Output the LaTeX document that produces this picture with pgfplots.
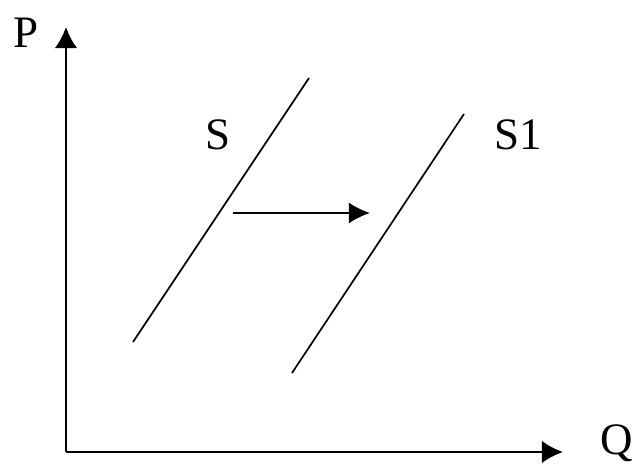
\documentclass[border=0pt]{standalone}
\usepackage{fontspec}
\setmainfont{Liberation Serif}
\usepackage{pgfplots}
\pgfplotsset{compat=1.18}
\usetikzlibrary{arrows.meta}

% coordinates are in reference pixels, y measured upwards from the bottom
\begin{document}
\begin{tikzpicture}
\tikzset{lbl/.style={font=\fontsize{32}{36}\selectfont, inner sep=0pt}}
\begin{axis}[
  scale only axis,
  width=15.95cm, height=11.725cm,
  xmin=0, xmax=638, ymin=0, ymax=469,
  hide axis,
  clip=false,
]
% frame of the picture
\addplot[draw=none] coordinates {(0,0) (638,469)};
% axes
\addplot[line width=1.8pt, -{Latex[length=15pt,width=16pt]}]
  coordinates {(66,17) (66,442)};
\addplot[line width=1.8pt, -{Latex[length=15pt,width=16pt]}]
  coordinates {(66,17) (563,17)};
% supply curves
\addplot[line width=1.2pt] coordinates {(133,127) (309,391)};
\addplot[line width=1.2pt] coordinates {(292,96) (464,355)};
% shift
\addplot[line width=1.6pt, -{Latex[length=15pt,width=15pt]}]
  coordinates {(233,256) (370,256)};
\node[lbl] at (axis cs:26,436) {P};
\node[lbl] at (axis cs:617,26) {Q};
\node[lbl] at (axis cs:218,334) {S};
\node[lbl] at (axis cs:518,334) {S1};
\end{axis}
\end{tikzpicture}
\end{document}
